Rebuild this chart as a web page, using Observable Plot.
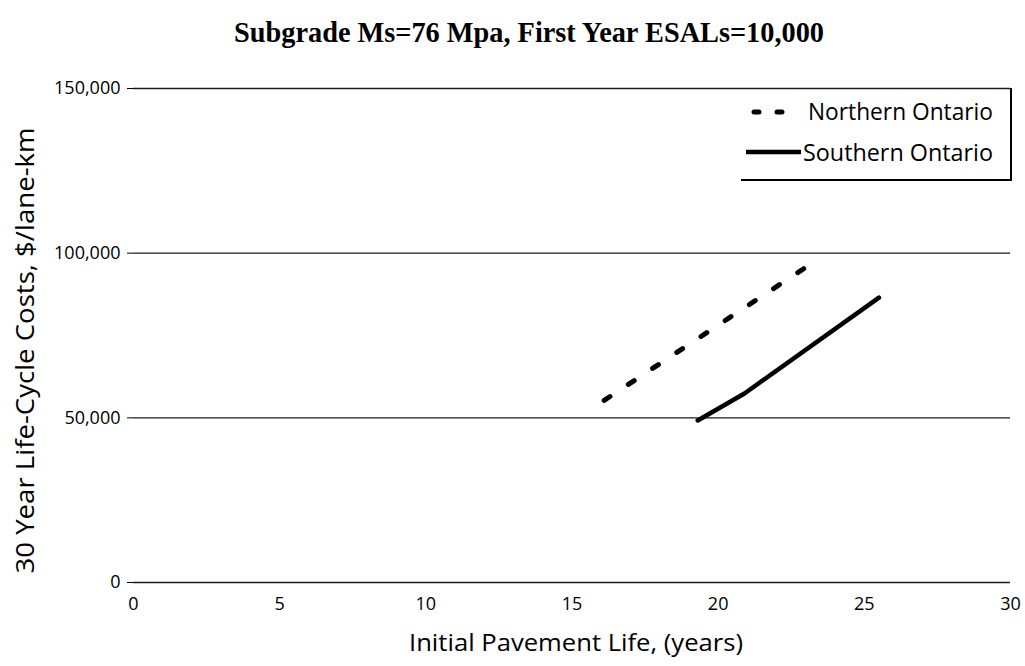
<!DOCTYPE html>
<html><head><meta charset="utf-8">
<script src="https://cdn.jsdelivr.net/npm/d3@7"></script>
<script src="https://cdn.jsdelivr.net/npm/@observablehq/plot@0.6"></script>
<style>
body{margin:0;background:#fff;}
#wrap{position:relative;width:1025px;height:666px;overflow:hidden;}
#chart{position:absolute;left:0;top:60px;}
#overlay{position:absolute;left:0;top:0;pointer-events:none;}
</style></head><body>
<div id="wrap">
<div id="chart"></div>
<svg id="overlay" width="1025" height="666">
  <text x="234" y="42" font-family="Liberation Serif, serif" font-weight="bold" font-size="29" textLength="590" lengthAdjust="spacingAndGlyphs" fill="#000">Subgrade Ms=76 Mpa, First Year ESALs=10,000</text>
  <g id="legend">
    <line x1="741" y1="180" x2="1012" y2="180" stroke="#000" stroke-width="2"/>
    <line x1="1011" y1="88" x2="1011" y2="181" stroke="#000" stroke-width="2"/>
    <line x1="754" y1="112" x2="785" y2="112" stroke="#000" stroke-width="5" stroke-linecap="round" stroke-dasharray="5,18"/>
    <line x1="746" y1="152" x2="801" y2="152" stroke="#000" stroke-width="4.5"/>
    <text x="808" y="120" font-family="Open Sans, sans-serif" font-size="24" textLength="185" lengthAdjust="spacingAndGlyphs" fill="#000">Northern Ontario</text>
    <text x="803" y="161" font-family="Open Sans, sans-serif" font-size="24" textLength="190" lengthAdjust="spacingAndGlyphs" fill="#000">Southern Ontario</text>
  </g>
</svg>
</div>
<script>
const northernYears = [16.1, 23.2];
const northernCosts = [55300, 96900];
const southernYears = [19.3, 20.9, 25.5];
const southernCosts = [49200, 57400, 86500];
const xTicks = [0, 5, 10, 15, 20, 25, 30];
const yTicks = [0, 50000, 100000, 150000];
const xLabel = "Initial Pavement Life, (years)";
const yLabel = "30 Year Life-Cycle Costs, $/lane-km";

const northern = northernYears.map((x, i) => ({year: x, cost: northernCosts[i]}));
const southern = southernYears.map((x, i) => ({year: x, cost: southernCosts[i]}));

const chart = Plot.plot({
  width: 1025,
  height: 606,
  marginLeft: 133,
  marginRight: 15,
  marginTop: 28,
  marginBottom: 84,
  style: {fontFamily: "Open Sans, sans-serif", fontSize: "18px", color: "#000", background: "#fff", overflow: "visible"},
  x: {domain: [0, 30]},
  y: {domain: [0, 150000]},
  marks: [
    Plot.ruleY(yTicks, {stroke: "#1a1a1a", strokeWidth: 1.3}),
    Plot.axisY({ticks: yTicks, tickFormat: d3.format(","), tickSize: 6, tickPadding: 7, label: null, fontSize: 18, fill: "#000"}),
    Plot.axisX({ticks: xTicks, tickSize: 0, tickPadding: 15, label: null, fontSize: 18, fill: "#000"}),
    Plot.text([yLabel], {frameAnchor: "left", textAnchor: "middle", rotate: -90, dx: -108, dy: 15, fontSize: 26, fontFamily: "Open Sans, sans-serif", fill: "#000"}),
    Plot.text([xLabel], {frameAnchor: "bottom", lineAnchor: "bottom", dx: 4, dy: 68, fontSize: 24, fontFamily: "Open Sans, sans-serif", fill: "#000"}),
    Plot.line(northern, {x: "year", y: "cost", stroke: "#000", strokeWidth: 5, strokeLinecap: "round", strokeDasharray: "7,22"}),
    Plot.line(southern, {x: "year", y: "cost", stroke: "#000", strokeWidth: 4.5, strokeLinecap: "round", strokeLinejoin: "round"})
  ]
});
d3.select(chart).selectAll("text").each(function() {
  const t = this.textContent;
  if (t === yLabel) d3.select(this).attr("textLength", 446).attr("lengthAdjust", "spacingAndGlyphs");
  if (t === xLabel) d3.select(this).attr("textLength", 334).attr("lengthAdjust", "spacingAndGlyphs");
});
document.getElementById("chart").appendChild(chart);
</script>
</body></html>
